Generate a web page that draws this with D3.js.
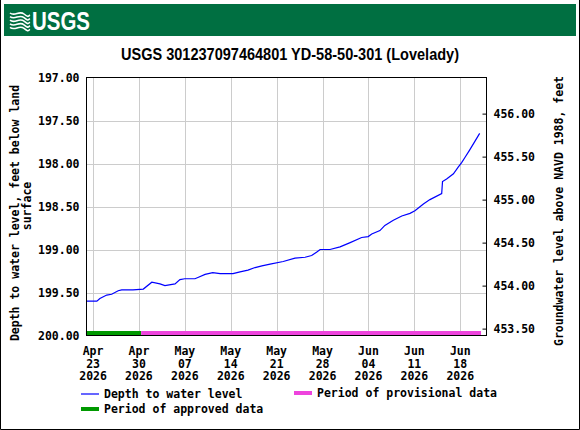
<!DOCTYPE html>
<html>
<head>
<meta charset="utf-8">
<script src="https://cdn.jsdelivr.net/npm/d3@7"></script>
<style>
  body { margin: 0; background: #fff; }
  svg { display: block; }
</style>
</head>
<body>
<div id="chart"></div>
<script>
// Daily-ish readings, depth to water (ft below land surface)
var dates = [
    '2026-04-22 00', '2026-04-23 14', '2026-04-24 01', '2026-04-25 02', '2026-04-25 20',
    '2026-04-26 20', '2026-04-27 09', '2026-04-29 02', '2026-04-30 16', '2026-05-01 23',
    '2026-05-03 05', '2026-05-03 23', '2026-05-05 12', '2026-05-06 06', '2026-05-07 00',
    '2026-05-08 13', '2026-05-09 04', '2026-05-10 02', '2026-05-11 06', '2026-05-12 09',
    '2026-05-14 08', '2026-05-15 10', '2026-05-16 15', '2026-05-17 17', '2026-05-18 18',
    '2026-05-20 00', '2026-05-22 00', '2026-05-23 19', '2026-05-25 08', '2026-05-26 08',
    '2026-05-27 03', '2026-05-27 15', '2026-05-29 03', '2026-05-30 16', '2026-06-01 05',
    '2026-06-02 23', '2026-06-03 23', '2026-06-04 12', '2026-06-05 18', '2026-06-06 12',
    '2026-06-07 19', '2026-06-09 02', '2026-06-10 08', '2026-06-11 02', '2026-06-12 09',
    '2026-06-13 09', '2026-06-15 04', '2026-06-15 07', '2026-06-15 22', '2026-06-16 23',
    '2026-06-17 17', '2026-06-18 05', '2026-06-18 17', '2026-06-19 09', '2026-06-20 06',
    '2026-06-20 23'
];
var depths = [
    199.60, 199.60, 199.57, 199.53, 199.52,
    199.48, 199.47, 199.47, 199.46, 199.38,
    199.40, 199.42, 199.40, 199.35, 199.34,
    199.34, 199.32, 199.29, 199.27, 199.28,
    199.28, 199.26, 199.24, 199.21, 199.19,
    199.17, 199.14, 199.10, 199.09, 199.07,
    199.03, 199.00, 199.00, 198.97, 198.92,
    198.86, 198.85, 198.82, 198.78, 198.72,
    198.66, 198.61, 198.58, 198.55, 198.47,
    198.42, 198.35, 198.21, 198.18, 198.12,
    198.04, 197.99, 197.93, 197.85, 197.74,
    197.65
];

// Approval periods
var periodNames = ['approved', 'provisional'];
var periodStarts = ['2026-04-21 22', '2026-04-30 08'];
var periodEnds = ['2026-04-30 08', '2026-06-21 04'];
var periodColors = ['#009900', '#ee44dd'];

var leftTicks = [197.0, 197.5, 198.0, 198.5, 199.0, 199.5, 200.0];
var rightTicks = [453.5, 454.0, 454.5, 455.0, 455.5, 456.0];
var xTicks = ['2026-04-23', '2026-04-30', '2026-05-07', '2026-05-14', '2026-05-21',
    '2026-05-28', '2026-06-04', '2026-06-11', '2026-06-18'];
var datum = 653.42; // land surface, ft NAVD 1988

var W = 580, H = 430;
var L = 86.5, R = 486.5, T = 77.5, B = 335.5;
var mono = '"DejaVu Sans Mono", monospace';

var parseHour = d3.timeParse('%Y-%m-%d %H');
var parseDay = d3.timeParse('%Y-%m-%d');

var data = dates.map(function (d, i) {
    return { date: parseHour(d), depth: depths[i] };
});

var svg = d3.select('#chart').append('svg')
    .attr('width', W)
    .attr('height', H)
;

// frame
svg.append('path')
    .attr('d', 'M0.5,0 V' + (H - 0.5) + ' H' + (W - 0.5) + ' V0')
    .attr('fill', 'none')
    .attr('stroke', '#000')
;

// header
svg.append('rect')
    .attr('x', 4).attr('y', 4)
    .attr('width', 572).attr('height', 32)
    .attr('fill', '#006f41')
;
var logo = svg.append('g').attr('fill', 'none').attr('stroke', '#fff');
[0, 1, 2, 3, 4].forEach(function (k) {
    var y0 = 13 + k * 3.6;
    logo.append('path')
        .attr('d', 'M10,' + y0 + ' C15,' + (y0 + 4) + ' 19,' + (y0 - 3) + ' 24,' + (y0 + 1) +
            ' S28,' + (y0 + 3) + ' 30,' + (y0 + 2))
        .attr('stroke-width', 1.6)
    ;
});
svg.append('text')
    .attr('x', 32).attr('y', 30)
    .attr('font-family', '"Liberation Sans Narrow", "Liberation Sans", Arial, sans-serif')
    .attr('font-weight', 'bold')
    .attr('font-size', 25)
    .attr('textLength', 58)
    .attr('lengthAdjust', 'spacingAndGlyphs')
    .attr('fill', '#fff')
    .text('USGS')
;

// title
svg.append('text')
    .attr('x', 290).attr('y', 60)
    .attr('text-anchor', 'middle')
    .attr('font-family', '"Liberation Sans", Arial, sans-serif')
    .attr('font-weight', 'bold')
    .attr('font-size', 16)
    .attr('textLength', 338)
    .attr('lengthAdjust', 'spacingAndGlyphs')
    .text('USGS 301237097464801 YD-58-50-301 (Lovelady)')
;

// Scales
var x = d3.scaleTime()
    .domain([parseDay('2026-04-22'), parseDay('2026-06-22')])
    .range([L, R])
;
var y = d3.scaleLinear()
    .domain([197, 200])
    .range([T, B])
;
var y2 = d3.scaleLinear()
    .domain([datum - 197, datum - 200])
    .range([T, B])
;

// grid
var grid = svg.append('g').attr('stroke', '#cccccc').attr('stroke-width', 1);
grid.selectAll('line.v')
    .data(xTicks)
    .enter()
    .append('line')
    .attr('x1', function (d) { return Math.round(x(parseDay(d))) + 0.5; })
    .attr('x2', function (d) { return Math.round(x(parseDay(d))) + 0.5; })
    .attr('y1', T).attr('y2', B)
;
grid.selectAll('line.h')
    .data(leftTicks.slice(1, -1))
    .enter()
    .append('line')
    .attr('x1', L).attr('x2', R)
    .attr('y1', function (d) { return Math.round(y(d)) + 0.5; })
    .attr('y2', function (d) { return Math.round(y(d)) + 0.5; })
;

// approval bars
svg.selectAll('rect.period')
    .data(periodNames)
    .enter()
    .append('rect')
    .attr('x', function (d, i) { return x(parseHour(periodStarts[i])); })
    .attr('width', function (d, i) {
        return x(parseHour(periodEnds[i])) - x(parseHour(periodStarts[i]));
    })
    .attr('y', y(200) - 4.5)
    .attr('height', 4)
    .attr('fill', function (d, i) { return periodColors[i]; })
;

// line
var line = d3.line()
    .x(function (d) { return x(d.date); })
    .y(function (d) { return y(d.depth); })
;
svg.append('path')
    .datum(data)
    .attr('d', line)
    .attr('fill', 'none')
    .attr('stroke', '#0000ff')
    .attr('stroke-width', 1.2)
;

// plot frame
svg.append('rect')
    .attr('x', L).attr('y', T)
    .attr('width', R - L).attr('height', B - T)
    .attr('fill', 'none')
    .attr('stroke', '#000')
;

// Axes
var leftAxis = svg.append('g')
    .attr('transform', 'translate(' + L + ',0)')
    .call(d3.axisLeft(y).tickValues(leftTicks).tickFormat(d3.format('.2f')).tickSize(0).tickPadding(7))
;
var rightAxis = svg.append('g')
    .attr('transform', 'translate(' + R + ',0)')
    .call(d3.axisRight(y2).tickValues(rightTicks).tickFormat(d3.format('.2f')).tickSize(-4).tickPadding(7))
;
var bottomAxis = svg.append('g')
    .attr('transform', 'translate(0,' + B + ')')
    .call(d3.axisBottom(x).tickValues(xTicks.map(parseDay)).tickSize(0).tickFormat(''))
;
[leftAxis, rightAxis, bottomAxis].forEach(function (a) {
    a.select('.domain').remove();
    a.selectAll('line').attr('stroke', '#000');
    a.selectAll('text')
        .attr('font-family', mono)
        .attr('font-weight', 'bold')
        .attr('font-size', 11.5)
        .attr('fill', '#000')
    ;
});

// date labels, three lines each
var fmtM = d3.timeFormat('%b'), fmtD = d3.timeFormat('%d'), fmtY = d3.timeFormat('%Y');
var xl = svg.selectAll('text.xlab')
    .data(xTicks.map(parseDay))
    .enter()
    .append('text')
    .attr('text-anchor', 'middle')
    .attr('font-family', mono)
    .attr('font-weight', 'bold')
    .attr('font-size', 11.5)
;
[fmtM, fmtD, fmtY].forEach(function (f, k) {
    xl.append('tspan')
        .attr('x', function (d) { return x(d); })
        .attr('y', 355 + k * 12.7)
        .text(function (d) { return f(d); })
    ;
});

// axis titles
var ytitle = svg.append('text')
    .attr('transform', 'translate(19,213) rotate(-90)')
    .attr('text-anchor', 'middle')
    .attr('font-family', mono)
    .attr('font-weight', 'bold')
    .attr('font-size', 11.5)
    .text('Depth to water level, feet below land')
;
svg.append('text')
    .attr('transform', 'translate(31,206) rotate(-90)')
    .attr('text-anchor', 'middle')
    .attr('font-family', mono)
    .attr('font-weight', 'bold')
    .attr('font-size', 11.5)
    .text('surface')
;
svg.append('text')
    .attr('transform', 'translate(563,211) rotate(-90)')
    .attr('text-anchor', 'middle')
    .attr('font-family', mono)
    .attr('font-weight', 'bold')
    .attr('font-size', 11.5)
    .text('Groundwater level above NAVD 1988, feet')
;

// Legend
var legendItems = [
    { label: 'Depth to water level', color: '#0000ff', w: 1.2, lx: 81, ly: 394 },
    { label: 'Period of provisional data', color: periodColors[1], w: 4, lx: 294, ly: 393 },
    { label: 'Period of approved data', color: periodColors[0], w: 4, lx: 81, ly: 409 }
];
var legend = svg.selectAll('g.legend')
    .data(legendItems)
    .enter()
    .append('g')
    .attr('transform', function (d) { return 'translate(' + d.lx + ',' + d.ly + ')'; })
;
legend.append('line')
    .attr('x1', 0).attr('x2', 18)
    .attr('stroke', function (d) { return d.color; })
    .attr('stroke-width', function (d) { return d.w; })
;
legend.append('text')
    .attr('x', 23).attr('y', 4)
    .attr('font-family', mono)
    .attr('font-weight', 'bold')
    .attr('font-size', 11.5)
    .text(function (d) { return d.label; })
;
</script>
</body>
</html>
